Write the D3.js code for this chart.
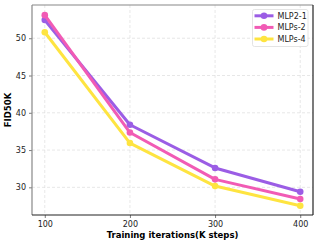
<!DOCTYPE html>
<html lang="en">
<head>
<script src="https://cdn.jsdelivr.net/npm/d3@7"></script>
<style>
  body { margin: 0; background: #fff; }
  text { font-family: "DejaVu Sans", sans-serif; }
</style>
</head>
<body>
<script>
// data
const steps = [100, 200, 300, 400]
const mlp21 = [52.45, 38.4, 32.6, 29.4]
const mlps2 = [53.1, 37.35, 31.07, 28.43]
const mlps4 = [50.8, 35.94, 30.17, 27.53]
const seriesNames = ["MLP2-1", "MLPs-2", "MLPs-4"]
const colors = ["#9b5de5", "#f15bb5", "#fee440"]
const xTicks = [100, 200, 300, 400]
const yTicks = [30, 35, 40, 45, 50]

const w = 319, h = 245
const margin = {left: 32, right: 6, top: 5, bottom: 30}

const svg = d3.select("body").append("svg")
    .attr("width", w).attr("height", h)

const x = d3.scaleLinear().domain([85, 415]).range([margin.left, w - margin.right])
const y = d3.scaleLinear().domain([26.29, 54.46]).range([h - margin.bottom, margin.top])

// grid
svg.append("g").selectAll("line").data(xTicks).enter().append("line")
    .attr("x1", d => x(d)).attr("x2", d => x(d))
    .attr("y1", margin.top).attr("y2", h - margin.bottom)
    .attr("stroke", "#ddd").attr("stroke-width", 0.7).attr("stroke-dasharray", "3,2")
svg.append("g").selectAll("line").data(yTicks).enter().append("line")
    .attr("y1", d => y(d)).attr("y2", d => y(d))
    .attr("x1", margin.left).attr("x2", w - margin.right)
    .attr("stroke", "#ddd").attr("stroke-width", 0.7).attr("stroke-dasharray", "3,2")

// axes
const xAxis = svg.append("g")
    .attr("transform", "translate(0," + (h - margin.bottom) + ")")
    .call(d3.axisBottom(x).tickValues(xTicks).tickSize(3).tickPadding(3))
const yAxis = svg.append("g")
    .attr("transform", "translate(" + margin.left + ",0)")
    .call(d3.axisLeft(y).tickValues(yTicks).tickSize(3).tickPadding(3))
;[xAxis, yAxis].forEach(a => {
    a.select(".domain").remove()
    a.selectAll("text").attr("font-size", 8).attr("fill", "#222").attr("font-family", "DejaVu Sans")
    a.selectAll(".tick line").attr("stroke", "#444").attr("stroke-width", 0.7)
})

// spines
const L = margin.left, R = w - margin.right, T = margin.top, B = h - margin.bottom
svg.append("line").attr("x1", L).attr("x2", R).attr("y1", T).attr("y2", T).attr("stroke", "#888").attr("stroke-width", 1.2)
svg.append("line").attr("x1", L).attr("x2", L).attr("y1", T).attr("y2", B).attr("stroke", "#888").attr("stroke-width", 1.2)
svg.append("line").attr("x1", R).attr("x2", R).attr("y1", T).attr("y2", B).attr("stroke", "#222").attr("stroke-width", 1.2)
svg.append("line").attr("x1", L).attr("x2", R).attr("y1", B).attr("y2", B).attr("stroke", "#222").attr("stroke-width", 1.2)

// lines
const allSeries = [mlp21, mlps2, mlps4]
const line = d3.line().x((d, i) => x(steps[i])).y(d => y(d))
allSeries.forEach((s, k) => {
    svg.append("path").datum(s)
        .attr("fill", "none").attr("stroke", colors[k]).attr("stroke-width", 3)
        .attr("stroke-linejoin", "round")
        .attr("d", line)
    svg.append("g").selectAll("circle").data(s).enter().append("circle")
        .attr("cx", (d, i) => x(steps[i])).attr("cy", d => y(d))
        .attr("r", 3.3).attr("fill", colors[k])
})

// labels
svg.append("text").attr("x", (L + R) / 2).attr("y", 238)
    .attr("text-anchor", "middle").attr("font-size", 8.5).attr("font-weight", "bold")
    .text("Training iterations(K steps)")
svg.append("text").attr("transform", "translate(11," + ((T + B) / 2) + ") rotate(-90)")
    .attr("text-anchor", "middle").attr("font-size", 8.5).attr("font-weight", "bold")
    .text("FID50K")

// legend
const lg = svg.append("g").attr("transform", "translate(252.5,9.5)")
lg.append("rect").attr("width", 55.5).attr("height", 37).attr("rx", 2)
    .attr("fill", "#fff").attr("fill-opacity", 0.8).attr("stroke", "#ddd").attr("stroke-width", 0.8)
seriesNames.forEach((n, k) => {
    const yy = 6.3 + k * 11.6
    lg.append("line").attr("x1", 2).attr("x2", 21).attr("y1", yy).attr("y2", yy)
        .attr("stroke", colors[k]).attr("stroke-width", 3)
    lg.append("circle").attr("cx", 11.5).attr("cy", yy).attr("r", 3.3).attr("fill", colors[k])
    lg.append("text").attr("x", 25).attr("y", yy + 3).attr("font-size", 8).attr("fill", "#222").text(n)
})
</script>
</body>
</html>
